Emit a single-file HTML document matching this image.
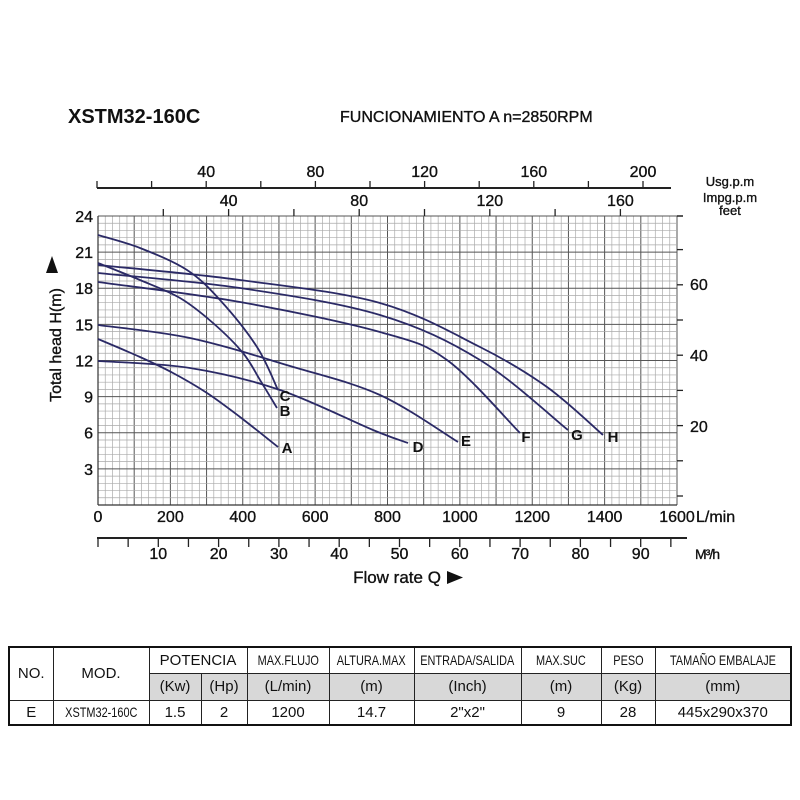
<!DOCTYPE html>
<html><head><meta charset="utf-8"><style>
html,body{margin:0;padding:0;background:#fff;}
body{width:800px;height:800px;position:relative;overflow:hidden;font-family:"Liberation Sans",sans-serif;}
svg{position:absolute;left:0;top:0;}
table{position:absolute;left:8px;top:646px;border-collapse:collapse;font-family:"Liberation Sans",sans-serif;color:#111;table-layout:fixed;}
td{border:1px solid #222;text-align:center;padding:0;font-size:13px;white-space:nowrap;overflow:hidden;}
.g{background:#d8d8d8;font-size:15px;}
.n span{display:inline-block;font-size:14px;transform:scaleX(0.78);margin:0 -40px;}
</style></head><body>
<svg id="s" width="800" height="800" viewBox="0 0 800 800" font-family="Liberation Sans, sans-serif"></svg>
<table style="border:2px solid #111;width:784px;">
<colgroup><col style="width:44px"><col style="width:96px"><col style="width:52px"><col style="width:46px"><col style="width:82px"><col style="width:85px"><col style="width:107px"><col style="width:80px"><col style="width:54px"><col></colgroup>
<tr style="height:26px"><td rowspan="2" style="font-size:15px">NO.</td><td rowspan="2" style="font-size:15px">MOD.</td><td colspan="2" style="font-size:15px">POTENCIA</td><td class="n"><span>MAX.FLUJO</span></td><td class="n"><span>ALTURA.MAX</span></td><td class="n"><span>ENTRADA/SALIDA</span></td><td class="n"><span>MAX.SUC</span></td><td class="n"><span>PESO</span></td><td class="n"><span>TAMAÑO EMBALAJE</span></td></tr>
<tr style="height:27px"><td class="g">(Kw)</td><td class="g">(Hp)</td><td class="g">(L/min)</td><td class="g">(m)</td><td class="g">(Inch)</td><td class="g">(m)</td><td class="g">(Kg)</td><td class="g">(mm)</td></tr>
<tr style="height:25px"><td style="font-size:15px">E</td><td class="n"><span>XSTM32-160C</span></td><td style="font-size:15px">1.5</td><td style="font-size:15px">2</td><td style="font-size:15px">1200</td><td style="font-size:15px">14.7</td><td style="font-size:15px">2"x2"</td><td style="font-size:15px">9</td><td style="font-size:15px">28</td><td style="font-size:15px">445x290x370</td></tr>
</table>
<script>
var s=document.getElementById('s'),h='';
function L(x1,y1,x2,y2,c,w){h+='<line x1="'+x1+'" y1="'+y1+'" x2="'+x2+'" y2="'+y2+'" stroke="'+c+'" stroke-width="'+w+'"/>';}
function T(x,y,t,sz,a,wt,ex){h+='<text x="'+x+'" y="'+y+'" font-size="'+sz+'" text-anchor="'+(a||'middle')+'" fill="#111" stroke="#111" stroke-width="'+(wt?0:0.35)+'"'+(wt?' font-weight="bold"':'')+(ex||'')+'>'+t+'</text>';}
var X0=98,X1=677,Y0=505,Y1=216;
for(var k=0;k<=80;k++){var x=X0+k*(X1-X0)/80;var m=k%5==0;L(x,Y1,x,Y0,m?'#555':'#aaa',m?1:0.7);}
for(var k=0;k<=40;k++){var y=Y0-k*(Y0-Y1)/40;var m=k%5==0;L(X0,y,X1,y,m?'#555':'#aaa',m?1:0.7);}
L(X0,Y0,X1,Y0,'#333',1.2);L(X0,Y1,X0,Y0,'#333',1.2);
for(var k=0;k<=8;k++){var y=496-35.2*k;if(y<216)y=216;L(X1,y,X1+6,y,'#222',1.3);}
T(690,290,'60',16,'start');T(690,361,'40',16,'start');T(690,432,'20',16,'start');
var yl=[3,6,9,12,15,18,21,24];yl.forEach(function(v){T(93,Y0-v*12.05+6,v,16,'end');});
for(var v=0;v<=1600;v+=200){var x=X0+v*(X1-X0)/1600;T(x,522,v,16);}
T(696,522,'L/min',16,'start');
L(97,538,687,538,'#222',2);
for(var m=0;m<=95;m+=5){var x=98+m*6.03;L(x,538,x,547,'#222',1.3);if(m%10==0&&m>0)T(x,559,m,16);}
T(695,559,'M³/h',14,'start',0,' letter-spacing="-1"');
T(397,583,'Flow rate Q',17);
h+='<polygon points="447,571 447,584 463,577.5" fill="#111"/>';
L(97,188,671,188,'#222',2);
for(var k=0;k<=10;k++){var x=97+k*54.6;L(x,188,x,181,'#222',1.3);if(k%2==0&&k>0)T(x,177,k*20,16);}
for(var k=1;k<=8;k++){var x=98+k*65.3;L(x,216,x,209,'#222',1.3);if(k%2==0)T(x,206,k*20,16);}
L(X1,216,X1+6,216,'#222',1.3);
T(730,186,'Usg.p.m',13);T(730,202,'Impg.p.m',13);T(730,215,'feet',13);
T(68,123,'XSTM32-160C',20,'start',1);
T(340,122,'FUNCIONAMIENTO A n=2850RPM',16,'start');
T(0,0,'Total head H(m)',16,'middle',0,' transform="translate(61,345) rotate(-90)"');
h+='<polygon points="52,256 46,273 58,273" fill="#111"/>';
function cr(p){var d='M'+p[0][0]+','+p[0][1];for(var i=0;i<p.length-1;i++){var p0=p[i-1]||p[i],p1=p[i],p2=p[i+1],p3=p[i+2]||p2;
d+=' C'+(p1[0]+(p2[0]-p0[0])/6)+','+(p1[1]+(p2[1]-p0[1])/6)+' '+(p2[0]-(p3[0]-p1[0])/6)+','+(p2[1]-(p3[1]-p1[1])/6)+' '+p2[0]+','+p2[1];}
h+='<path d="'+d+'" fill="none" stroke="#2b2a66" stroke-width="1.8"/>';}
cr([[98,265],[240,280],[380,303],[480,347],[547,387],[603,435]]);
cr([[98,273],[240,288],[380,315],[480,360],[568,430]]);
cr([[98,282],[240,302],[380,332],[447,360],[520,433]]);
cr([[98,325],[190,338],[290,366],[380,395],[458,442]]);
cr([[98,361],[190,368],[280,390],[373,430],[408,443]]);
cr([[98,235],[140,248],[187,270],[220,300],[257,347],[278,390]]);
cr([[98,263],[140,280],[180,298],[213,323],[243,353],[260,380],[277,408]]);
cr([[98,339],[140,357],[173,373],[207,393],[240,417],[278,447]]);
var lb=[['A',287,453],['B',285,416],['C',285,401],['D',418,452],['E',466,446],['F',526,442],['G',577,440],['H',613,442]];
lb.forEach(function(l){T(l[1],l[2],l[0],15,'middle',1);});
s.innerHTML=h;
</script>
</body></html>
